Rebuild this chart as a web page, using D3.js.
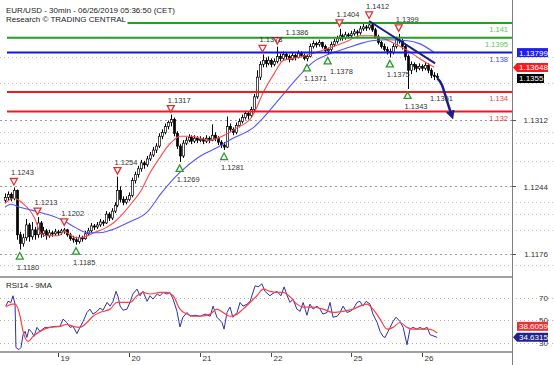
<!DOCTYPE html>
<html><head><meta charset="utf-8">
<script src="https://cdn.jsdelivr.net/npm/d3@7"></script>
<style>body{margin:0;background:#fff}svg{display:block;font-family:"Liberation Sans",Arial,sans-serif}</style>
</head><body><svg id="c" width="554" height="365"></svg>
<script>
// ---------- DATA ----------
const opens=[1.1230,1.1233,1.1236,1.1232,1.1240,1.1195,1.1186,1.1192,1.1205,1.1193,
1.1200,1.1195,1.1207,1.1196,1.1199,1.1194,1.1197,1.1196,1.1198,1.1197,
1.1199,1.1200,1.1195,1.1191,1.1190,1.1188,1.1192,1.1191,1.1196,1.1199,
1.1204,1.1203,1.1205,1.1208,1.1207,1.1216,1.1212,1.1219,1.1225,1.1240,
1.1231,1.1228,1.1231,1.1235,1.1250,1.1256,1.1262,1.1268,1.1266,1.1272,
1.1276,1.1281,1.1285,1.1295,1.1299,1.1305,1.1309,1.1312,1.1298,1.1285,
1.1275,1.1288,1.1291,1.1294,1.1290,1.1293,1.1291,1.1292,1.1290,1.1293,
1.1291,1.1296,1.1293,1.1289,1.1286,1.1284,1.1305,1.1302,1.1299,1.1306,
1.1310,1.1314,1.1318,1.1316,1.1322,1.1335,1.1355,1.1368,1.1372,1.1369,
1.1372,1.1368,1.1371,1.1376,1.1374,1.1378,1.1376,1.1373,1.1377,1.1375,
1.1379,1.1377,1.1374,1.1376,1.1386,1.1389,1.1388,1.1390,1.1386,1.1382,
1.1383,1.1388,1.1391,1.1394,1.1397,1.1395,1.1398,1.1397,1.1399,1.1401,
1.1400,1.1404,1.1406,1.1405,1.1408,1.1403,1.1396,1.1390,1.1386,1.1383,
1.1381,1.1380,1.1386,1.1393,1.1392,1.1386,1.1376,1.1362,1.1368,1.1366,
1.1364,1.1366,1.1364,1.1367,1.1362,1.1357,1.1356];
const highs=[1.1237,1.1239,1.1238,1.1243,1.1241,1.1198,1.1196,1.1211,1.1207,1.1208,
1.1203,1.1213,1.1209,1.1203,1.1201,1.1200,1.1199,1.1201,1.1200,1.1201,
1.1202,1.1201,1.1197,1.1194,1.1193,1.1195,1.1194,1.1199,1.1202,1.1207,
1.1206,1.1208,1.1211,1.1210,1.1219,1.1218,1.1222,1.1228,1.1254,1.1244,
1.1234,1.1234,1.1238,1.1253,1.1259,1.1265,1.1271,1.1270,1.1275,1.1279,
1.1284,1.1288,1.1298,1.1302,1.1308,1.1311,1.1317,1.1314,1.1300,1.1287,
1.1291,1.1294,1.1297,1.1296,1.1296,1.1295,1.1295,1.1294,1.1296,1.1295,
1.1307,1.1299,1.1295,1.1291,1.1289,1.1315,1.1308,1.1304,1.1309,1.1313,
1.1317,1.1321,1.1320,1.1325,1.1338,1.1362,1.1371,1.1378,1.1375,1.1376,
1.1374,1.1374,1.1386,1.1379,1.1381,1.1380,1.1378,1.1380,1.1379,1.1382,
1.1381,1.1379,1.1378,1.1389,1.1392,1.1391,1.1393,1.1391,1.1388,1.1385,
1.1391,1.1394,1.1397,1.1404,1.1399,1.1401,1.1400,1.1402,1.1404,1.1403,
1.1407,1.1409,1.1408,1.1412,1.1410,1.1405,1.1398,1.1392,1.1389,1.1386,
1.1384,1.1389,1.1396,1.1399,1.1394,1.1388,1.1378,1.1371,1.1370,1.1368,
1.1369,1.1368,1.1370,1.1369,1.1364,1.1360,1.1359];
const lows=[1.1227,1.1230,1.1229,1.1230,1.1190,1.1180,1.1183,1.1189,1.1188,1.1190,
1.1190,1.1192,1.1192,1.1193,1.1190,1.1192,1.1193,1.1194,1.1194,1.1195,
1.1196,1.1193,1.1189,1.1187,1.1185,1.1186,1.1188,1.1190,1.1194,1.1197,
1.1200,1.1201,1.1203,1.1204,1.1206,1.1209,1.1210,1.1217,1.1223,1.1228,
1.1225,1.1226,1.1229,1.1233,1.1247,1.1253,1.1259,1.1262,1.1264,1.1270,
1.1274,1.1278,1.1283,1.1292,1.1297,1.1302,1.1305,1.1295,1.1282,1.1269,
1.1273,1.1286,1.1289,1.1287,1.1288,1.1288,1.1289,1.1287,1.1288,1.1288,
1.1290,1.1290,1.1286,1.1283,1.1281,1.1283,1.1299,1.1296,1.1297,1.1304,
1.1308,1.1312,1.1312,1.1314,1.1320,1.1333,1.1352,1.1365,1.1365,1.1367,
1.1365,1.1366,1.1369,1.1371,1.1372,1.1373,1.1370,1.1372,1.1372,1.1374,
1.1375,1.1372,1.1371,1.1375,1.1384,1.1385,1.1386,1.1384,1.1380,1.1378,
1.1381,1.1386,1.1389,1.1392,1.1392,1.1393,1.1394,1.1395,1.1397,1.1397,
1.1398,1.1402,1.1402,1.1403,1.1401,1.1394,1.1388,1.1384,1.1381,1.1378,
1.1375,1.1378,1.1384,1.1389,1.1383,1.1372,1.1343,1.1358,1.1362,1.1360,
1.1362,1.1361,1.1362,1.1359,1.1354,1.1352,1.1352];
const closes=[1.1233,1.1236,1.1232,1.1240,1.1195,1.1186,1.1192,1.1205,1.1193,1.1200,
1.1195,1.1207,1.1196,1.1199,1.1194,1.1197,1.1196,1.1198,1.1197,1.1199,
1.1200,1.1195,1.1191,1.1190,1.1188,1.1192,1.1191,1.1196,1.1199,1.1204,
1.1203,1.1205,1.1208,1.1207,1.1216,1.1212,1.1219,1.1225,1.1240,1.1231,
1.1228,1.1231,1.1235,1.1250,1.1256,1.1262,1.1268,1.1266,1.1272,1.1276,
1.1281,1.1285,1.1295,1.1299,1.1305,1.1309,1.1312,1.1298,1.1285,1.1275,
1.1288,1.1291,1.1294,1.1290,1.1293,1.1291,1.1292,1.1290,1.1293,1.1291,
1.1296,1.1293,1.1289,1.1286,1.1284,1.1305,1.1302,1.1299,1.1306,1.1310,
1.1314,1.1318,1.1316,1.1322,1.1335,1.1355,1.1368,1.1372,1.1369,1.1372,
1.1368,1.1371,1.1376,1.1374,1.1378,1.1376,1.1373,1.1377,1.1375,1.1379,
1.1377,1.1374,1.1376,1.1386,1.1389,1.1388,1.1390,1.1386,1.1382,1.1383,
1.1388,1.1391,1.1394,1.1397,1.1395,1.1398,1.1397,1.1399,1.1401,1.1400,
1.1404,1.1406,1.1405,1.1408,1.1403,1.1396,1.1390,1.1386,1.1383,1.1381,
1.1380,1.1386,1.1393,1.1392,1.1386,1.1376,1.1362,1.1368,1.1366,1.1364,
1.1366,1.1364,1.1367,1.1362,1.1357,1.1356,1.1355];

const redMaIdx=[0,3,6,10,12,14,18,20,24,27,30,34,37,40,43,46,49,52,55,57,59,63,66,69,74,78,83,85,87,91,94,99,104,110,116,120,124,128,131,136,140,145];
const redMaVal=[1.1227,1.1232,1.1227,1.1212,1.1197,1.1194,1.1194,1.1198,1.1192,1.1193,1.1197,1.1202,1.1208,1.1217,1.1228,1.1240,1.1258,1.1272,1.1285,1.1291,1.1295,1.1295,1.1293,1.1291,1.1296,1.1303,1.1313,1.1324,1.1338,1.1359,1.1372,1.1375,1.1379,1.1385,1.1392,1.1397,1.1397,1.1394,1.1390,1.1382,1.1374,1.1365];
const blueMaIdx=[0,2,5,9,15,20,24,28,32,36,42,48,53,59,65,72,77,84,87,93,99,104,110,116,120,124,129,136,140,145];
const blueMaVal=[1.1223,1.1226,1.1223,1.1220,1.1215,1.1209,1.1202,1.1197,1.1197,1.1200,1.1208,1.1218,1.1238,1.1258,1.1273,1.1284,1.1293,1.1304,1.1313,1.1334,1.1355,1.1370,1.1379,1.1385,1.1389,1.1392,1.1393,1.1392,1.1389,1.1380];

const levelVals=[1.141,1.1395,1.138,1.134,1.132];
const levelLabels=["1.141","1.1395","1.138","1.134","1.132"];
const levelTypes=["res","res","pivot","sup","sup"];

const peakIdx=[3,11,20,38,56,87,92,113,123,133];
const peakVal=[1.1243,1.1213,1.1202,1.1254,1.1317,1.1378,1.1386,1.1404,1.1412,1.1399];
const troughIdx=[5,24,59,74,102,109,130,136];
const troughVal=[1.1180,1.1185,1.1269,1.1281,1.1371,1.1378,1.1375,1.1343];

const trendIdx=[123,145.3], trendVal=[1.1412,1.1369];
const projIdx=[146,147.6,148.6,149.6,150.7], projVal=[1.1354,1.1347,1.1338,1.1328,1.1318];
const targetIdx=144.6, targetVal=1.1334, targetLabel="1.1351";

const dayIdx=[18,42,66,90,117,141];
const dayLabels=["19","20","21","22","25","26"];
const priceTicks=[1.1176,1.1244,1.1312];
const gridLevels=[1.1375,1.1349,1.1299,1.1288,1.1270,1.1228,1.1216,1.1200,1.1164];
const priceTagVals=[1.13799,1.13648,1.1355];
const priceTagText=["1.13799","1.13648","1.1355"];

const rsiIdx=[0.3,1,2,2.7,3.4,3.7,4.7,5.4,6.1,6.8,7.4,8.1,9.1,9.8,10.8,11.8,13.5,15.2,16.9,18.6,19.6,20.9,22,23,24.3,25.3,26.4,27.7,28.7,29.7,31.1,32.1,33.1,34.5,35.5,36.5,37.5,38.2,38.9,39.9,41.2,42.2,43.2,44.6,45.6,46.6,48,49,50,51.4,52.4,53.4,54.7,55.7,56.8,58.1,59.1,60.1,61.5,62.5,64.2,65.9,67.6,69.3,70.3,71.6,73.3,74,75,76,77,78.4,79.4,80.4,81.8,82.8,84.5,85.5,86.8,87.8,89.5,90.2,91.9,93.2,94.3,95.3,96.3,97.3,98.6,99.7,100.7,101.4,102,103,104.1,105.4,106.4,107.4,108.8,109.8,110.8,112.2,113.2,114.2,115.5,116.6,117.6,118.9,119.9,120.9,122,123.3,124.3,125.7,126.7,127.7,128.4,129.4,130.1,131.1,132.1,133.4,134.5,135.8,136.8,137.8,139.2,140.2,141.2,142.6,143.6,144.6,146];
const rsiVal=[62.7,67,66,72,64.5,25.5,23.6,25.5,37,40,34.5,42,39,35.5,43.6,40,43.6,43.6,44.5,44.5,51,48,43.6,44.5,38,43.6,49,57,60,55.5,58,61,59,66,62.7,67,76,71,62.7,59,60,66,73.6,78,72,76,67,72,69,73.6,72,75,73.6,75,69,58,44,52.7,57,53.6,54.5,53.6,55.5,53.6,62.7,52.7,48,42,57,61.8,52.7,57,66,62.7,64.5,67,81,80,82.7,76,72,73.6,76,72,80,72,66,69,60,58,66,60,54.5,64.5,60,62.7,60,55.5,57,66,52.7,53.6,57,62.7,57,58,60,66,67,62.7,67,64.5,55.5,48,40,35.5,34.5,40,43.6,49,52.7,49,43.6,28,42,43.6,42,43.6,42,43.6,37,36,34.6];
const rsiMaIdx=[0.3,2.4,3.4,5.1,6.1,7.8,9.5,11.8,15.2,18.6,20.9,23,25.3,27.7,29.7,32.1,35.5,37.8,39.9,42.2,44.6,46.6,49,52.4,54.7,56.8,59.1,61.5,63.5,65.9,69.3,71.6,73.6,76,78.4,80.4,82.8,85.1,87.2,89.5,91.9,93.9,96.3,98.6,100.7,104.1,107.4,110.8,114.2,117.6,119.9,122.3,124.3,126.7,129.1,131.1,133.4,135.8,137.8,140.2,142.6,144.6,146];
const rsiMaVal=[61.8,64.5,64.5,53.6,40,31,35.5,40,43.6,44.5,46.4,44.5,43.6,48,53.6,57,60,66,66,66,72,75,73.6,75,75,72,60,55.5,53.6,53.6,55.5,60,57,53.6,55.5,60,66,72,78,76,75,75,71,64.5,61.8,61.8,60,57,58,60,62.7,64.5,60,51,42,43.6,48,43.6,42,42,42,41,38.6];
const rsiTicks=[30,50,70];
const rsiTagVals=[38.6059,34.6315];
const rsiTagText=["38.6059","34.6315"];

// ---------- CHART ----------
const svg=d3.select("#c");
const W=554,H=365,AX=512,SEP=277,RB=352;
const x=d3.scaleLinear().domain([0,146]).range([5,437.2]);
const y=d3.scaleLinear().domain([1.1176,1.1312]).range([253.5,119.5]);
const ry=d3.scaleLinear().domain([30,70]).range([342.5,298]);

const defs=svg.append("defs");
defs.append("clipPath").attr("id","cm").append("rect").attr("x",0).attr("y",0).attr("width",AX).attr("height",SEP-1);
defs.append("clipPath").attr("id","cr").append("rect").attr("x",0).attr("y",SEP+1).attr("width",AX).attr("height",RB-SEP-2);
defs.append("marker").attr("id","ah").attr("viewBox","0 0 10 10").attr("refX",3).attr("refY",5)
  .attr("markerWidth",3.6).attr("markerHeight",3.6).attr("orient","auto")
  .append("path").attr("d","M0,0L10,5L0,10z").attr("fill","#1c1c8c");

// grid
const g0=svg.append("g");
gridLevels.forEach(v=>g0.append("line").attr("x1",0).attr("x2",W).attr("y1",Math.round(y(v))+0.5).attr("y2",Math.round(y(v))+0.5)
  .attr("stroke","#c4c4c4").attr("stroke-dasharray","1,3"));
priceTicks.forEach(v=>g0.append("line").attr("x1",0).attr("x2",AX).attr("y1",Math.round(y(v))+0.5).attr("y2",Math.round(y(v))+0.5)
  .attr("stroke","#9a9a9a").attr("stroke-dasharray","2,3"));
rsiTicks.forEach(v=>g0.append("line").attr("x1",0).attr("x2",W).attr("y1",Math.round(ry(v))+0.5).attr("y2",Math.round(ry(v))+0.5)
  .attr("stroke","#b4b4b4").attr("stroke-dasharray","1,3"));

// main panel
const gm=svg.append("g").attr("clip-path","url(#cm)");
const idx=d3.range(closes.length);
gm.selectAll("line.w").data(idx).join("line")
  .attr("x1",i=>Math.round(x(i))+0.5).attr("x2",i=>Math.round(x(i))+0.5)
  .attr("y1",i=>y(highs[i])).attr("y2",i=>y(lows[i])).attr("stroke","#000").attr("stroke-width",1);
gm.selectAll("rect.b").data(idx).join("rect")
  .attr("x",i=>Math.round(x(i))-0.5).attr("width",2)
  .attr("y",i=>Math.min(y(opens[i]),y(closes[i])))
  .attr("height",i=>Math.max(1.2,Math.abs(y(opens[i])-y(closes[i]))))
  .attr("fill",i=>closes[i]>=opens[i]?"#fff":"#000").attr("stroke","#000").attr("stroke-width",0.7);

const maLine=d3.line().curve(d3.curveMonotoneX);
gm.append("path").attr("d",maLine(redMaIdx.map((d,k)=>[x(d),y(redMaVal[k])])))
  .attr("fill","none").attr("stroke","#ff4a4a").attr("stroke-width",1.1);
gm.append("path").attr("d",maLine(blueMaIdx.map((d,k)=>[x(d),y(blueMaVal[k])])))
  .attr("fill","none").attr("stroke","#5454ff").attr("stroke-width",1.1);

const levelColor={res:"#22a022",pivot:"#1414ee",sup:"#ee1c1c"};
const levelText={res:"#5cc45c",pivot:"#4a4aee",sup:"#ee4040"};
levelVals.forEach((v,k)=>{
  gm.append("line").attr("x1",7).attr("x2",AX).attr("y1",y(v)).attr("y2",y(v))
    .attr("stroke",levelColor[levelTypes[k]]).attr("stroke-width",2);
  gm.append("text").attr("x",508).attr("y",y(v)+9).attr("text-anchor","end")
    .attr("font-size",7.5).attr("fill",levelText[levelTypes[k]]).text(levelLabels[k]);
});

// trend line + projection
gm.append("line").attr("x1",x(trendIdx[0])).attr("y1",y(trendVal[0])).attr("x2",x(trendIdx[1])).attr("y2",y(trendVal[1]))
  .attr("stroke","#1c1c8c").attr("stroke-width",2);
svg.append("path").attr("d",d3.line().curve(d3.curveMonotoneX)(projIdx.map((d,k)=>[x(d),y(projVal[k])])))
  .attr("fill","none").attr("stroke","#1c1c8c").attr("stroke-width",2.5).attr("marker-end","url(#ah)");

// markers: triangles first, then labels (nudged right when colliding)
const gTri=svg.append("g"), gLab=svg.append("g");
let placed=[];
function placeLabel(lx,ly,txt){
  const t=gLab.append("text").attr("x",lx).attr("y",ly).attr("font-size",7.5).attr("fill","#333").text(txt);
  let b=t.node().getBBox();
  placed.forEach(p=>{ if(Math.abs(p.y-ly)<9 && b.x<p.x2+3 && b.x+b.width>p.x1){ lx=p.x2+3; t.attr("x",lx); b=t.node().getBBox(); } });
  placed.push({x1:b.x,x2:b.x+b.width,y:ly});
}
peakIdx.forEach((d,k)=>{
  const cx=x(d), cy=y(peakVal[k])-6;
  gTri.append("path").attr("d",`M${cx-3.5},${cy-3}L${cx+3.5},${cy-3}L${cx},${cy+3.5}Z`)
    .attr("fill","#fff").attr("stroke","#e03030").attr("stroke-width",1.3);
  placeLabel(cx-3,cy-6,peakVal[k].toFixed(4));
});
troughIdx.forEach((d,k)=>{
  const cx=x(d), cy=y(troughVal[k])+6.5;
  gTri.append("path").attr("d",`M${cx-3.5},${cy+3}L${cx+3.5},${cy+3}L${cx},${cy-3.5}Z`)
    .attr("fill","#fff").attr("stroke","#2a9a2a").attr("stroke-width",1.3);
  placeLabel(cx-3,cy+13.5,troughVal[k].toFixed(4));
});
gLab.append("text").attr("x",x(targetIdx)-3).attr("y",y(targetVal)+3).attr("font-size",7.5).attr("fill","#333").text(targetLabel);

// RSI panel
const gr=svg.append("g").attr("clip-path","url(#cr)");
gr.append("path").attr("d",d3.line()(rsiIdx.map((d,k)=>[x(d),ry(rsiVal[k])])))
  .attr("fill","none").attr("stroke","#3030a8").attr("stroke-width",1);
gr.append("path").attr("d",d3.line().curve(d3.curveMonotoneX)(rsiMaIdx.map((d,k)=>[x(d),ry(rsiMaVal[k])])))
  .attr("fill","none").attr("stroke","#ff4040").attr("stroke-width",1.2);
svg.append("text").attr("x",6).attr("y",288).attr("font-size",8).attr("fill","#222").text("RSI14 - 9MA");

// frame
svg.append("line").attr("x1",0).attr("x2",AX).attr("y1",SEP).attr("y2",SEP).attr("stroke","#808080").attr("stroke-width",1.5);
svg.append("line").attr("x1",0).attr("x2",AX).attr("y1",RB).attr("y2",RB).attr("stroke","#808080").attr("stroke-width",1.5);
svg.append("line").attr("x1",AX+0.5).attr("x2",AX+0.5).attr("y1",0).attr("y2",H).attr("stroke","#808080").attr("stroke-width",1);

// right price axis
priceTicks.forEach(v=>{
  svg.append("line").attr("x1",AX).attr("x2",AX+4).attr("y1",Math.round(y(v))+0.5).attr("y2",Math.round(y(v))+0.5).attr("stroke","#555");
  svg.append("text").attr("x",548).attr("y",y(v)+3).attr("text-anchor","end").attr("font-size",8).attr("fill","#333").text(v.toFixed(4));
});
rsiTicks.forEach(v=>{
  svg.append("text").attr("x",548).attr("y",ry(v)+3).attr("text-anchor","end").attr("font-size",8).attr("fill","#333").text(v);
});

function tag(cy,txt,fill,arrow,w){
  const h=9, x0=517;
  if(arrow){
    svg.append("path").attr("d",`M${x0-4},${cy}L${x0},${cy-h/2}L${x0+w},${cy-h/2}L${x0+w},${cy+h/2}L${x0},${cy+h/2}Z`).attr("fill",fill);
  } else {
    svg.append("rect").attr("x",x0).attr("y",cy-h/2).attr("width",w).attr("height",h).attr("fill",fill);
  }
  svg.append("text").attr("x",x0+2).attr("y",cy+3).attr("font-size",8).attr("fill","#fff").text(txt);
}
let py=[];
priceTagVals.forEach((v,k)=>{let c=y(v); if(k>0) c=Math.max(c,py[k-1]+11); py.push(c);});
tag(py[0],priceTagText[0],"#1e1ef0",false,31);
tag(py[1],priceTagText[1],"#f01e1e",true,31);
tag(py[2],priceTagText[2],"#000",false,27);
const rb=ry(rsiTagVals[1]); const rr=Math.min(ry(rsiTagVals[0]),rb-11);
tag(rr,rsiTagText[0],"#f03030",false,31);
tag(rb,rsiTagText[1],"#22228c",true,31);

// x axis
dayIdx.forEach((d,k)=>{
  const xx=Math.round(x(d))+0.5;
  svg.append("line").attr("x1",xx).attr("x2",xx).attr("y1",RB+1).attr("y2",RB+5).attr("stroke","#444");
  svg.append("text").attr("x",xx+2).attr("y",361).attr("font-size",8).attr("fill","#333").text(dayLabels[k]);
});

// title with white backing
const tg=svg.append("g");
const t1=tg.append("text").attr("x",6).attr("y",12.5).attr("font-size",8).attr("fill","#222").text("EUR/USD - 30min - 06/26/2019 05:36:50 (CET)");
const t2=tg.append("text").attr("x",6).attr("y",21.5).attr("font-size",8).attr("fill","#222").text("Research \u00A9 TRADING CENTRAL");
[t1,t2].forEach(t=>{const b=t.node().getBBox();
  tg.insert("rect","text").attr("x",b.x-1).attr("y",b.y-1).attr("width",b.width+2).attr("height",b.height+2.5).attr("fill","#fff");});
</script></body></html>
